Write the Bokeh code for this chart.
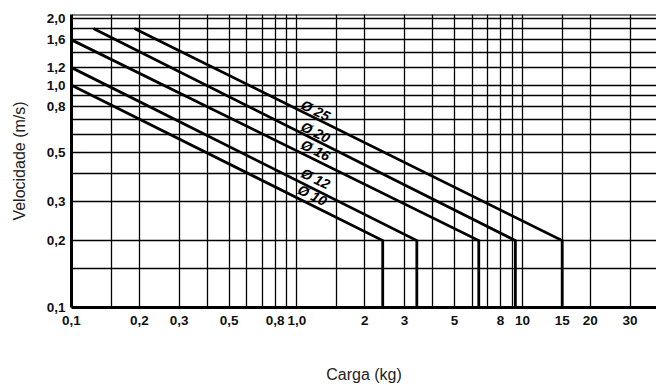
from bokeh.plotting import figure
from bokeh.models import FixedTicker, Span, Range1d, ColumnDataSource
from bokeh.core.properties import value
from bokeh.embed import file_html
from bokeh.resources import INLINE

# ---- data ----
diameters = ["Ø 10", "Ø 12", "Ø 16", "Ø 20", "Ø 25"]
start_load = [0.1, 0.1, 0.1, 0.125, 0.19]      # kg
start_speed = [1.0, 1.2, 1.6, 1.8, 1.8]        # m/s
end_load = [2.4, 3.4, 6.4, 9.3, 15.0]          # kg
end_speed = [0.2, 0.2, 0.2, 0.2, 0.2]          # m/s
floor_speed = [0.1, 0.1, 0.1, 0.1, 0.1]        # m/s

label_load = [1.17, 1.21, 1.21, 1.21, 1.21]
label_speed = [0.32, 0.38, 0.51, 0.614, 0.77]

x_grid_values = [0.1, 0.15, 0.2, 0.3, 0.4, 0.5, 0.6, 0.7, 0.8, 0.9, 1.0, 1.5,
                 2, 3, 4, 5, 6, 7, 8, 9, 10, 15, 20, 30]
x_tick_values = [0.1, 0.2, 0.3, 0.5, 0.8, 1.0, 2, 3, 5, 8, 10, 15, 20, 30]
x_tick_labels = ["0,1", "0,2", "0,3", "0,5", "0,8", "1,0", "2", "3", "5", "8",
                 "10", "15", "20", "30"]
y_grid_values = [0.1, 0.15, 0.2, 0.3, 0.4, 0.5, 0.6, 0.7, 0.8, 0.9, 1.0, 1.2,
                 1.4, 1.6, 1.8, 2.0]
y_tick_values = [0.1, 0.2, 0.3, 0.5, 0.8, 1.0, 1.2, 1.6, 2.0]
y_tick_labels = ["0,1", "0,2", "0,3", "0,5", "0,8", "1,0", "1,2", "1,6", "2,0"]

x_min, x_max = 0.1, 39.3
y_min, y_max = 0.1, 2.08

FONT = "Liberation Sans"

p = figure(width=656, height=385, x_axis_type="log", y_axis_type="log",
           x_range=Range1d(x_min, x_max), y_range=Range1d(y_min, y_max),
           output_backend="svg", toolbar_location=None,
           min_border_left=71, min_border_right=0, min_border_top=14,
           min_border_bottom=78)
p.outline_line_color = None
p.background_fill_color = "white"
p.border_fill_color = "white"

# grid
p.xgrid.ticker = FixedTicker(ticks=x_grid_values)
p.ygrid.ticker = FixedTicker(ticks=y_grid_values)
for g in (p.xgrid, p.ygrid):
    g.grid_line_color = "black"
    g.grid_line_width = 1.3
    g.grid_line_alpha = 1.0

# axes
p.xaxis.ticker = FixedTicker(ticks=x_tick_values)
p.yaxis.ticker = FixedTicker(ticks=y_tick_values)
p.xaxis.major_label_overrides = {v: l for v, l in zip(x_tick_values, x_tick_labels)}
p.yaxis.major_label_overrides = {v: l for v, l in zip(y_tick_values, y_tick_labels)}
for ax in (p.xaxis, p.yaxis):
    ax.axis_line_width = 3
    ax.axis_line_color = "black"
    ax.major_tick_line_color = None
    ax.minor_tick_line_color = None
    ax.major_tick_out = 0
    ax.major_tick_in = 0
    ax.minor_tick_out = 0
    ax.major_label_text_font = FONT
    ax.major_label_text_font_style = "bold"
    ax.major_label_text_font_size = "13.5px"
    ax.major_label_text_color = "#111111"
    ax.axis_label_text_font = FONT
    ax.axis_label_text_font_style = "normal"
    ax.axis_label_text_font_size = "16px"
    ax.axis_label_text_color = "#222222"
p.xaxis.axis_label = "Carga (kg)"
p.yaxis.axis_label = "Velocidade (m/s)"
p.xaxis.major_label_standoff = 8
p.yaxis.major_label_standoff = 6
p.xaxis.axis_label_standoff = 38
p.yaxis.axis_label_standoff = 16

# top border
p.add_layout(Span(location=y_max, dimension="width", line_color="black", line_width=2))

# curves
xs = [[a, b, b] for a, b in zip(start_load, end_load)]
ys = [[a, b, c] for a, b, c in zip(start_speed, end_speed, floor_speed)]
p.multi_line(xs=xs, ys=ys, line_color="black", line_width=2.8, line_join="miter")

src = ColumnDataSource(dict(x=label_load, y=label_speed, t=diameters))
p.text(x="x", y="y", text="t", source=src, angle=-0.455,
       text_align="center", text_baseline="middle",
       text_font=value(FONT), text_font_style="bold italic",
       text_font_size="14px", text_color="black")

open("out.html", "w").write(file_html(p, INLINE))
